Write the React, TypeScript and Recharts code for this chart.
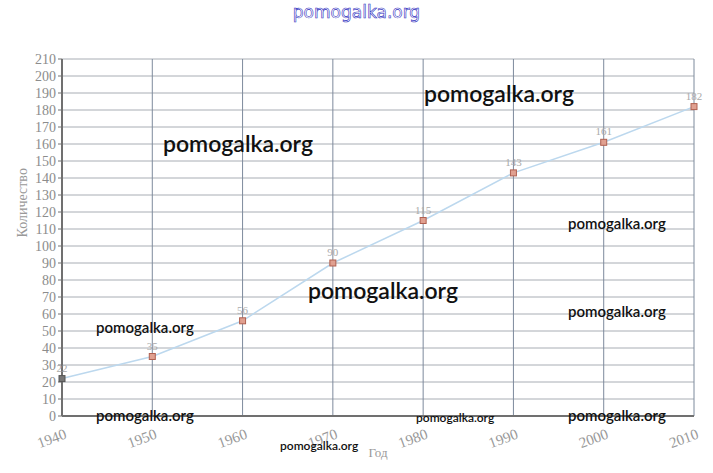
import { CartesianGrid, LabelList, Line, LineChart, XAxis, YAxis } from "recharts";

const years = [1940, 1950, 1960, 1970, 1980, 1990, 2000, 2010];
const counts = [22, 35, 56, 90, 115, 143, 161, 182];
const yTicks = [0, 10, 20, 30, 40, 50, 60, 70, 80, 90, 100, 110, 120, 130, 140, 150, 160, 170, 180, 190, 200, 210];

const watermarks = [
  { x: 424, y: 94, size: 23 },
  { x: 163, y: 144, size: 23 },
  { x: 568, y: 223, size: 15 },
  { x: 308, y: 291, size: 23 },
  { x: 96, y: 327, size: 15 },
  { x: 568, y: 311, size: 15 },
  { x: 96, y: 415, size: 15 },
  { x: 416, y: 418, size: 12 },
  { x: 568, y: 415, size: 15 },
  { x: 280, y: 446, size: 12 },
];

const data = years.map((year, i) => ({ year, count: counts[i] }));

const serif = "'Liberation Serif', 'DejaVu Serif', serif";

function SquareDot(props: any) {
  const { cx, cy, index } = props;
  if (cx == null || cy == null) return null;
  const first = index === 0;
  return (
    <rect
      key={index}
      x={cx - 3}
      y={cy - 3}
      width={6}
      height={6}
      fill={first ? "#777" : "#e0a090"}
      stroke={first ? "#555" : "#b06050"}
      strokeWidth={1}
    />
  );
}

export default function App() {
  return (
    <div style={{ position: "absolute", left: 0, top: 0, width: 713, height: 473, background: "#fff" }}>
      <LineChart
        width={713}
        height={473}
        data={data}
        margin={{ top: 59, right: 19, left: 0, bottom: 0 }}
      >
        <CartesianGrid stroke="#a8adb4" vertical={false} />
        <CartesianGrid stroke="#7d8a9c" horizontal={false} />
        <XAxis
          dataKey="year"
          type="number"
          domain={[1940, 2010]}
          ticks={years}
          axisLine={{ stroke: "#707070", strokeWidth: 2 }}
          tickLine={false}
          height={57}
          angle={-20}
          textAnchor="end"
          tick={{ fill: "#999", fontSize: 15, fontFamily: serif }}
          dx={2}
          dy={4}
          label={{ value: "Год", position: "insideBottom", offset: 16, fill: "#999", fontSize: 13, fontFamily: serif }}
        />
        <YAxis
          domain={[0, 210]}
          ticks={yTicks}
          interval={0}
          width={62}
          axisLine={{ stroke: "#707070", strokeWidth: 2 }}
          tickLine={{ stroke: "#707070" }}
          tickSize={4}
          tick={{ fill: "#8c8c8c", fontSize: 14, fontFamily: serif }}
          label={{ value: "Количество", angle: -90, position: "insideLeft", offset: 22, fill: "#999", fontSize: 14, fontFamily: serif }}
        />
        <Line
          dataKey="count"
          type="linear"
          stroke="#bcd8ee"
          strokeWidth={1.5}
          dot={<SquareDot />}
          isAnimationActive={false}
        >
          <LabelList dataKey="count" position="top" offset={7} fill="#aaa" fontSize={11} fontFamily={serif} />
        </Line>
      </LineChart>
      <div
        style={{
          position: "absolute",
          left: 0,
          width: 713,
          top: 2,
          textAlign: "center",
          fontFamily: "'DejaVu Sans', sans-serif",
          fontSize: 17,
          color: "#fff",
          WebkitTextStroke: "0.6px #3030c0",
          lineHeight: "20px",
        }}
      >
        pomogalka.org
      </div>
      {watermarks.map((w, i) => (
        <div
          key={i}
          style={{
            position: "absolute",
            left: w.x,
            top: w.y - w.size * 0.6,
            fontFamily: "Lato, sans-serif",
            fontWeight: 600,
            fontSize: w.size,
            lineHeight: 1.2,
            color: "#111",
            whiteSpace: "nowrap",
          }}
        >
          pomogalka.org
        </div>
      ))}
    </div>
  );
}
